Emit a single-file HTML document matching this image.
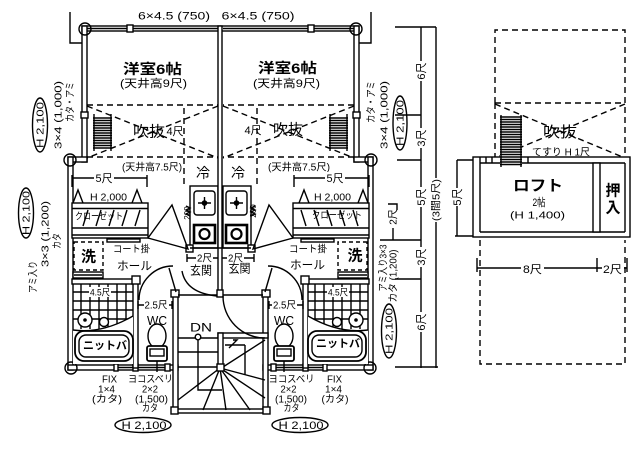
<!DOCTYPE html>
<html><head><meta charset="utf-8">
<style>
html,body{margin:0;padding:0;background:#fff;}
svg{display:block}
.s{fill:none;stroke:#000;stroke-width:1.4}
.w{fill:#fff;stroke:#000;stroke-width:1.4}
.d{fill:none;stroke:#000;stroke-width:1.4;stroke-dasharray:6 4}
.f{fill:#fff;stroke:none}
text{font-family:"Liberation Sans","Noto Sans CJK JP",sans-serif;fill:#000}
.b{font-weight:700}
</style></head><body>
<svg width="640" height="453" viewBox="0 0 640 453" xmlns="http://www.w3.org/2000/svg">
<defs>
<g id="u">
 <rect class="w" x="82" y="26" width="138" height="5"/>
 <line class="s" x1="87" y1="28.5" x2="218" y2="28.5"/>
 <rect class="w" x="127" y="25" width="6" height="7"/>
 <rect class="w" x="82" y="26" width="5" height="136"/>
 <rect class="w" x="81" y="112" width="7" height="6"/>
 <circle class="s" cx="85" cy="29" r="6"/>
 <polyline class="s" points="70,12 70,43 82,43"/>
 <line class="d" x1="87" y1="105" x2="218" y2="105"/>
 <line class="d" x1="87" y1="157" x2="218" y2="157"/>
 <line class="d" x1="184" y1="108" x2="184" y2="185"/>
 <line class="d" x1="87" y1="106" x2="218" y2="158"/>
 <line class="d" x1="218" y1="106" x2="87" y2="158"/>
 <rect class="f" x="93" y="116" width="19" height="32"/>
 <path class="s" d="M93 118h19M93 120.5h19M93 123h19M93 125.5h19M93 128h19M93 130.5h19M93 133h19M93 135.5h19M93 138h19M93 140.5h19M93 143h19M93 145.5h19M93 148h19M94 114v37M111 114v37"/>
 <rect class="w" x="68" y="157" width="19" height="5"/>
 <rect class="w" x="68" y="157" width="5" height="213"/>
 <circle class="s" cx="70" cy="160" r="6"/>
 <rect class="w" x="68" y="365" width="110" height="5"/>
 <circle class="s" cx="71" cy="368" r="6"/>
 <line class="s" x1="115" y1="367.5" x2="170" y2="367.5"/>
 <rect class="w" x="114" y="364" width="4" height="7"/>
 <rect class="w" x="133" y="364" width="5" height="7"/>
 <rect class="w" x="165" y="364" width="5" height="7"/>
 <rect class="w" x="190" y="186" width="28" height="62"/>
 <rect class="s" x="194" y="191" width="21" height="24" rx="3"/>
 <circle cx="204.5" cy="203" r="2.8"/>
 <path class="s" d="M198 203h13M204.5 197v12"/>
 <rect class="s" x="194" y="225" width="21" height="18" style="stroke-width:2.6"/>
 <circle class="s" cx="204.5" cy="234" r="5" style="stroke-width:2.2"/>
 <path class="s" d="M186 206l4 2l-4 2l4 2l-4 2l4 2"/>
 <rect class="w" x="186" y="245" width="7" height="7"/>
 <path class="s" d="M72 178H147M72 175v12M147 175v12"/>
 <polyline class="s" points="73,203 78,190 83,203"/>
 <polyline class="s" points="132,203 137,190 142,203"/>
 <rect class="w" x="72" y="203" width="76" height="35"/>
 <path class="s" d="M72 208.5H148M72 228H148M72 235H148"/>
 <path class="s" d="M83 226l5-16M96 226l5-16M109 226l5-16M122 226l5-16M135 226l5-16"/>
 <path class="s" d="M148 238L172 205L188 249Z"/>
 <rect class="s" x="107" y="239" width="33" height="3"/>
 <rect class="s" x="74" y="242" width="29" height="28" style="stroke-dasharray:4 3"/>
 <rect class="w" x="73" y="272" width="30" height="6"/>
 <line class="s" x1="74" y1="275" x2="102" y2="275"/>
 <rect class="w" x="72" y="279" width="66" height="5"/>
 <path class="s" d="M81 284v45M90 284v45M99 284v45M108 284v45M117 284v45M126 284v45M73 292h60M73 301h60M73 310h60M73 319h60"/>
 <rect class="w" x="133" y="279" width="5" height="89"/>
 <rect class="w" x="132" y="276" width="8" height="8"/>
 <path class="f" d="M73 330Q102 334 133 316V364H73Z"/>
 <path class="s" d="M73 330Q102 334 133 316"/>
 <circle class="w" cx="85" cy="320" r="7"/>
 <circle cx="85" cy="320" r="1.8"/>
 <circle class="w" cx="104" cy="322" r="4.5"/>
 <rect class="w" x="75" y="331" width="58" height="30" rx="9" style="stroke-width:1.8"/>
 <rect class="s" x="79" y="335" width="50" height="22" rx="7"/>
 <path class="s" d="M138 305H172M138 301v8M172 301v8"/>
 <ellipse class="s" cx="157" cy="336" rx="9" ry="12"/>
 <rect class="w" x="147" y="346" width="20" height="15" rx="2" style="stroke-width:1.8"/>
 <rect class="s" x="150" y="349" width="14" height="7"/>
 <line class="s" x1="157" y1="361" x2="157" y2="372"/>
 <path class="s" d="M139 300A34 34 0 0 1 173 266"/>
 <rect class="w" x="173" y="292" width="5" height="121"/>
 <rect class="w" x="171" y="290" width="8" height="7"/>
 <path class="s" d="M187 258H220M187 254v8"/>
 <line class="s" x1="169" y1="268" x2="176" y2="292"/>
 <line class="s" x1="178" y1="295" x2="218" y2="295"/>
</g>
</defs>
<use href="#u"/>
<use href="#u" transform="matrix(-1 0 0 1 441 0)"/>

<rect class="w" x="218" y="26" width="4" height="270"/>
<line class="s" x1="190" y1="248" x2="251" y2="248"/>
<rect class="w" x="217" y="290" width="6" height="7"/>
<rect class="w" x="173" y="409" width="95" height="4"/>
<rect class="w" x="171" y="407" width="7" height="7"/>
<rect class="w" x="263" y="407" width="7" height="7"/>
<path class="s" d="M178 338H218M178 352H218M178 367H218"/>
<path class="s" d="M220 368L178 400M220 368L203 410M220 368L226 410M220 368L250 410M220 368L265 398M220 368L265 380M223 367L265 340"/>
<path class="s" d="M198 340V390H222M245 345V375M225 345H245"/>
<circle class="w" cx="198" cy="337" r="2.8"/>
<rect class="w" x="218" y="333" width="50" height="5"/>
<rect class="w" x="218" y="333" width="5" height="37"/>
<rect class="w" x="217" y="364" width="7" height="7"/>
<path class="s" d="M229 348l8-8h-4"/>
<path class="s" d="M223 296A42 42 0 0 0 265 338"/>
<path class="s" d="M182 271Q186 293 217 296"/>

<path class="s" d="M421 27V368M436 27V368M395 27H436M395 115H421M397 160H421M380 240H421M395 279H421M395 367H438"/>
<path class="s" d="M388 204H397V210M393 228V240"/>
<rect class="f" x="414" y="61" width="14" height="20"/>
<rect class="f" x="414" y="128" width="14" height="20"/>
<rect class="f" x="414" y="187" width="14" height="20"/>
<rect class="f" x="414" y="247" width="14" height="20"/>
<rect class="f" x="414" y="312" width="14" height="20"/>
<rect class="f" x="429" y="178" width="14" height="44"/>
<text x="421" y="75" font-size="11" text-anchor="middle" transform="rotate(-90 421 71)">6尺</text>
<text x="421" y="142" font-size="11" text-anchor="middle" transform="rotate(-90 421 138)">3尺</text>
<text x="421" y="201" font-size="11" text-anchor="middle" transform="rotate(-90 421 197)">5尺</text>
<text x="421" y="261" font-size="11" text-anchor="middle" transform="rotate(-90 421 257)">3尺</text>
<text x="421" y="326" font-size="11" text-anchor="middle" transform="rotate(-90 421 322)">6尺</text>
<text x="436" y="203.5" font-size="10" text-anchor="middle" textLength="42" lengthAdjust="spacingAndGlyphs" transform="rotate(-90 436 200)">(3間5尺)</text>
<text x="393" y="220.5" font-size="10" text-anchor="middle" transform="rotate(-90 393 217)">2尺</text>

<text x="70" y="105.5" font-size="10" text-anchor="middle" textLength="40" lengthAdjust="spacingAndGlyphs" transform="rotate(-90 70 102)">カタ・アミ</text>
<text x="58" y="118.5" font-size="10" text-anchor="middle" textLength="68" lengthAdjust="spacingAndGlyphs" transform="rotate(-90 58 115)">3×4 (1,000)</text>
<ellipse class="s" cx="40" cy="125" rx="7.5" ry="27"/>
<text x="40" y="128.5" font-size="10.5" text-anchor="middle" textLength="46" lengthAdjust="spacingAndGlyphs" transform="rotate(-90 40 125)">H 2,100</text>
<ellipse class="s" cx="26" cy="213" rx="7.5" ry="25"/>
<text x="26" y="216.5" font-size="10.5" text-anchor="middle" textLength="44" lengthAdjust="spacingAndGlyphs" transform="rotate(-90 26 213)">H 2,100</text>
<text x="33" y="280.5" font-size="10" text-anchor="middle" textLength="32" lengthAdjust="spacingAndGlyphs" transform="rotate(-90 33 277)">アミ入り</text>
<text x="45" y="237.5" font-size="10" text-anchor="middle" textLength="66" lengthAdjust="spacingAndGlyphs" transform="rotate(-90 45 234)">3×3 (1,200)</text>
<text x="57" y="244.5" font-size="10" text-anchor="middle" textLength="16" lengthAdjust="spacingAndGlyphs" transform="rotate(-90 57 241)">カタ</text>

<text x="371" y="105.5" font-size="10" text-anchor="middle" textLength="42" lengthAdjust="spacingAndGlyphs" transform="rotate(-90 371 102)">カタ・アミ</text>
<text x="384" y="118.5" font-size="10" text-anchor="middle" textLength="68" lengthAdjust="spacingAndGlyphs" transform="rotate(-90 384 115)">3×4 (1,000)</text>
<ellipse class="s" cx="400" cy="123" rx="7" ry="27"/>
<text x="400" y="126.5" font-size="10.5" text-anchor="middle" textLength="46" lengthAdjust="spacingAndGlyphs" transform="rotate(-90 400 123)">H 2,100</text>
<text x="383" y="271.5" font-size="10" text-anchor="middle" textLength="47" lengthAdjust="spacingAndGlyphs" transform="rotate(-90 383 268)">アミ入り3×3</text>
<text x="393" y="279.5" font-size="10" text-anchor="middle" textLength="53" lengthAdjust="spacingAndGlyphs" transform="rotate(-90 393 276)">カタ (1,200)</text>
<ellipse class="s" cx="389" cy="331" rx="7.5" ry="27"/>
<text x="389" y="334.5" font-size="10.5" text-anchor="middle" textLength="46" lengthAdjust="spacingAndGlyphs" transform="rotate(-90 389 331)">H 2,100</text>

<text x="174" y="19.5" font-size="11" text-anchor="middle" textLength="72" lengthAdjust="spacingAndGlyphs">6×4.5 (750)</text>
<text x="258" y="19.5" font-size="11" text-anchor="middle" textLength="73" lengthAdjust="spacingAndGlyphs">6×4.5 (750)</text>

<text class="b" x="152.5" y="74" font-size="14" text-anchor="middle" textLength="59" lengthAdjust="spacingAndGlyphs">洋室6帖</text>
<text x="153.5" y="87" font-size="11" text-anchor="middle" textLength="67" lengthAdjust="spacingAndGlyphs">(天井高9尺)</text>
<text x="149" y="136.5" font-size="15" text-anchor="middle" textLength="32" lengthAdjust="spacingAndGlyphs">吹抜</text>
<text x="175" y="135" font-size="11" text-anchor="middle">4尺</text>
<text x="152" y="170.5" font-size="10" text-anchor="middle" textLength="60" lengthAdjust="spacingAndGlyphs">(天井高7.5尺)</text>
<text x="203" y="178" font-size="14" text-anchor="middle">冷</text>
<rect class="f" x="94" y="172" width="20" height="13"/>
<text x="104" y="182" font-size="11" text-anchor="middle" textLength="17" lengthAdjust="spacingAndGlyphs">5尺</text>
<text x="108.5" y="200.5" font-size="10" text-anchor="middle" textLength="37" lengthAdjust="spacingAndGlyphs">H 2,000</text>
<text x="99" y="219.5" font-size="9.5" text-anchor="middle" textLength="48" lengthAdjust="spacingAndGlyphs">クローゼット</text>
<text x="187" y="216" font-size="8" text-anchor="middle" transform="rotate(-90 187 213)">200</text>
<text class="b" x="88.5" y="261.5" font-size="15" text-anchor="middle">洗</text>
<text x="131.5" y="252.5" font-size="10" text-anchor="middle" textLength="37" lengthAdjust="spacingAndGlyphs">コート掛</text>
<text x="134.5" y="270" font-size="12" text-anchor="middle" textLength="35" lengthAdjust="spacingAndGlyphs">ホール</text>
<rect class="f" x="196" y="252" width="17" height="12"/>
<text x="204.5" y="261.5" font-size="10" text-anchor="middle" textLength="15" lengthAdjust="spacingAndGlyphs">2尺</text>
<text x="201" y="274.5" font-size="12" text-anchor="middle" textLength="22" lengthAdjust="spacingAndGlyphs">玄関</text>
<rect class="f" x="89" y="287" width="22" height="10"/>
<text x="100" y="295.5" font-size="9" text-anchor="middle" textLength="20" lengthAdjust="spacingAndGlyphs">4.5尺</text>
<rect class="f" x="144" y="299" width="25" height="12"/>
<text x="156" y="308.5" font-size="10" text-anchor="middle" textLength="23" lengthAdjust="spacingAndGlyphs">2.5尺</text>
<text x="157" y="325" font-size="13" text-anchor="middle" textLength="20" lengthAdjust="spacingAndGlyphs">WC</text>
<text class="b" x="105" y="349" font-size="11" text-anchor="middle" textLength="44" lengthAdjust="spacingAndGlyphs">ニットバ</text>
<text x="201" y="331.5" font-size="12" text-anchor="middle" textLength="22" lengthAdjust="spacingAndGlyphs">DN</text>
<text x="109.5" y="382.5" font-size="10" text-anchor="middle" textLength="15" lengthAdjust="spacingAndGlyphs">FIX</text>
<text x="106.5" y="392.5" font-size="10" text-anchor="middle" textLength="17" lengthAdjust="spacingAndGlyphs">1×4</text>
<text x="107" y="402.5" font-size="10" text-anchor="middle" textLength="30" lengthAdjust="spacingAndGlyphs">(カタ)</text>
<text x="150.5" y="382.5" font-size="10" text-anchor="middle" textLength="45" lengthAdjust="spacingAndGlyphs">ヨコスベリ</text>
<text x="150" y="392.5" font-size="10" text-anchor="middle" textLength="16" lengthAdjust="spacingAndGlyphs">2×2</text>
<text x="151.5" y="402.5" font-size="10" text-anchor="middle" textLength="33" lengthAdjust="spacingAndGlyphs">(1,500)</text>
<text x="150" y="411.5" font-size="10" text-anchor="middle" textLength="16" lengthAdjust="spacingAndGlyphs">カタ</text>
<ellipse class="s" cx="143" cy="425" rx="28" ry="7.5"/>
<text x="144" y="429" font-size="11" text-anchor="middle" textLength="45" lengthAdjust="spacingAndGlyphs">H 2,100</text>

<text class="b" x="287.5" y="73" font-size="14" text-anchor="middle" textLength="59" lengthAdjust="spacingAndGlyphs">洋室6帖</text>
<text x="286.5" y="87" font-size="11" text-anchor="middle" textLength="67" lengthAdjust="spacingAndGlyphs">(天井高9尺)</text>
<text x="253" y="134" font-size="11" text-anchor="middle">4尺</text>
<text x="288" y="134.5" font-size="15" text-anchor="middle" textLength="30" lengthAdjust="spacingAndGlyphs">吹抜</text>
<text x="299" y="170.5" font-size="10" text-anchor="middle" textLength="62" lengthAdjust="spacingAndGlyphs">(天井高7.5尺)</text>
<text x="238" y="178" font-size="14" text-anchor="middle">冷</text>
<rect class="f" x="325" y="172" width="20" height="13"/>
<text x="335" y="182" font-size="11" text-anchor="middle" textLength="17" lengthAdjust="spacingAndGlyphs">5尺</text>
<text x="332.5" y="200.5" font-size="10" text-anchor="middle" textLength="37" lengthAdjust="spacingAndGlyphs">H 2,000</text>
<text x="337" y="218.5" font-size="9.5" text-anchor="middle" textLength="50" lengthAdjust="spacingAndGlyphs">クローゼット</text>
<text x="253" y="214" font-size="8" text-anchor="middle" transform="rotate(-90 253 211)">200</text>
<text x="308" y="252.5" font-size="10" text-anchor="middle" textLength="38" lengthAdjust="spacingAndGlyphs">コート掛</text>
<text x="307.5" y="269" font-size="12" text-anchor="middle" textLength="35" lengthAdjust="spacingAndGlyphs">ホール</text>
<text class="b" x="355" y="260.5" font-size="15" text-anchor="middle">洗</text>
<rect class="f" x="227" y="252" width="17" height="12"/>
<text x="235.5" y="261.5" font-size="10" text-anchor="middle" textLength="15" lengthAdjust="spacingAndGlyphs">2尺</text>
<text x="239.5" y="272.5" font-size="12" text-anchor="middle" textLength="22" lengthAdjust="spacingAndGlyphs">玄関</text>
<rect class="f" x="327" y="287" width="22" height="10"/>
<text x="338" y="295.5" font-size="9" text-anchor="middle" textLength="20" lengthAdjust="spacingAndGlyphs">4.5尺</text>
<rect class="f" x="272" y="299" width="25" height="12"/>
<text x="284.5" y="308.5" font-size="10" text-anchor="middle" textLength="23" lengthAdjust="spacingAndGlyphs">2.5尺</text>
<text x="284" y="325" font-size="13" text-anchor="middle" textLength="20" lengthAdjust="spacingAndGlyphs">WC</text>
<text class="b" x="338" y="347" font-size="11" text-anchor="middle" textLength="44" lengthAdjust="spacingAndGlyphs">ニットバ</text>
<text x="291.5" y="382.5" font-size="10" text-anchor="middle" textLength="46" lengthAdjust="spacingAndGlyphs">ヨコスベリ</text>
<text x="288.5" y="392.5" font-size="10" text-anchor="middle" textLength="16" lengthAdjust="spacingAndGlyphs">2×2</text>
<text x="291" y="402.5" font-size="10" text-anchor="middle" textLength="32" lengthAdjust="spacingAndGlyphs">(1,500)</text>
<text x="291.5" y="411.5" font-size="10" text-anchor="middle" textLength="16" lengthAdjust="spacingAndGlyphs">カタ</text>
<text x="334.5" y="382.5" font-size="10" text-anchor="middle" textLength="15" lengthAdjust="spacingAndGlyphs">FIX</text>
<text x="333.5" y="392.5" font-size="10" text-anchor="middle" textLength="17" lengthAdjust="spacingAndGlyphs">1×4</text>
<text x="335" y="402.5" font-size="10" text-anchor="middle" textLength="27" lengthAdjust="spacingAndGlyphs">(カタ)</text>
<ellipse class="s" cx="300" cy="425" rx="28" ry="7.5"/>
<text x="301" y="429" font-size="11" text-anchor="middle" textLength="45" lengthAdjust="spacingAndGlyphs">H 2,100</text>

<path class="d" d="M495 103V30H625V157"/>
<line class="d" x1="495" y1="103" x2="625" y2="103"/>
<line class="d" x1="495" y1="103" x2="495" y2="157"/>
<line class="d" x1="495" y1="104" x2="625" y2="158"/>
<line class="d" x1="625" y1="104" x2="495" y2="158"/>
<rect class="f" x="500" y="115" width="22" height="42"/>
<text x="560" y="137" font-size="15" text-anchor="middle" textLength="34" lengthAdjust="spacingAndGlyphs">吹抜</text>
<text x="561" y="155.5" font-size="10" text-anchor="middle" textLength="58" lengthAdjust="spacingAndGlyphs">てすり H 1尺</text>
<rect class="w" x="473" y="157" width="157" height="80"/>
<path class="s" d="M480 163H625M480 163V232M625 163V232M480 232H625"/>
<rect class="w" x="593" y="163" width="7" height="69"/>
<path class="s" d="M480 157v6M486 157v6M492 157v6M528 157v6"/>
<rect class="f" x="500" y="115" width="22" height="52"/>
<path class="s" d="M500 117h22M500 119.5h22M500 122h22M500 124.5h22M500 127h22M500 129.5h22M500 132h22M500 134.5h22M500 137h22M500 139.5h22M500 142h22M500 144.5h22M500 147h22M500 149.5h22M500 152h22M500 154.5h22M500 157h22M500 159.5h22M500 162h22M500 164.5h22M501 115v52M521 115v52"/>
<text class="b" x="538" y="190.5" font-size="15" text-anchor="middle" textLength="50" lengthAdjust="spacingAndGlyphs">ロフト</text>
<text x="539" y="206" font-size="11" text-anchor="middle" textLength="13" lengthAdjust="spacingAndGlyphs">2帖</text>
<text x="537.5" y="218.5" font-size="10" text-anchor="middle" textLength="55" lengthAdjust="spacingAndGlyphs">(H 1,400)</text>
<text class="b" x="613" y="195.5" font-size="15" text-anchor="middle">押</text>
<text class="b" x="613" y="212.5" font-size="15" text-anchor="middle">入</text>
<path class="s" d="M457 160V236M457 160H473M455 236H473"/>
<rect class="f" x="451" y="188" width="12" height="18"/>
<text x="457" y="201" font-size="11" text-anchor="middle" transform="rotate(-90 457 197)">5尺</text>
<path class="d" d="M480 240V364H625V240"/>
<path class="s" d="M477 268H627M477 258v14M597 258v14M627 258v14"/>
<rect class="f" x="521" y="262" width="23" height="13"/>
<rect class="f" x="602" y="262" width="22" height="13"/>
<text x="532.5" y="273" font-size="11" text-anchor="middle" textLength="19" lengthAdjust="spacingAndGlyphs">8尺</text>
<text x="612.5" y="273" font-size="11" text-anchor="middle" textLength="19" lengthAdjust="spacingAndGlyphs">2尺</text>
</svg>
</body></html>
